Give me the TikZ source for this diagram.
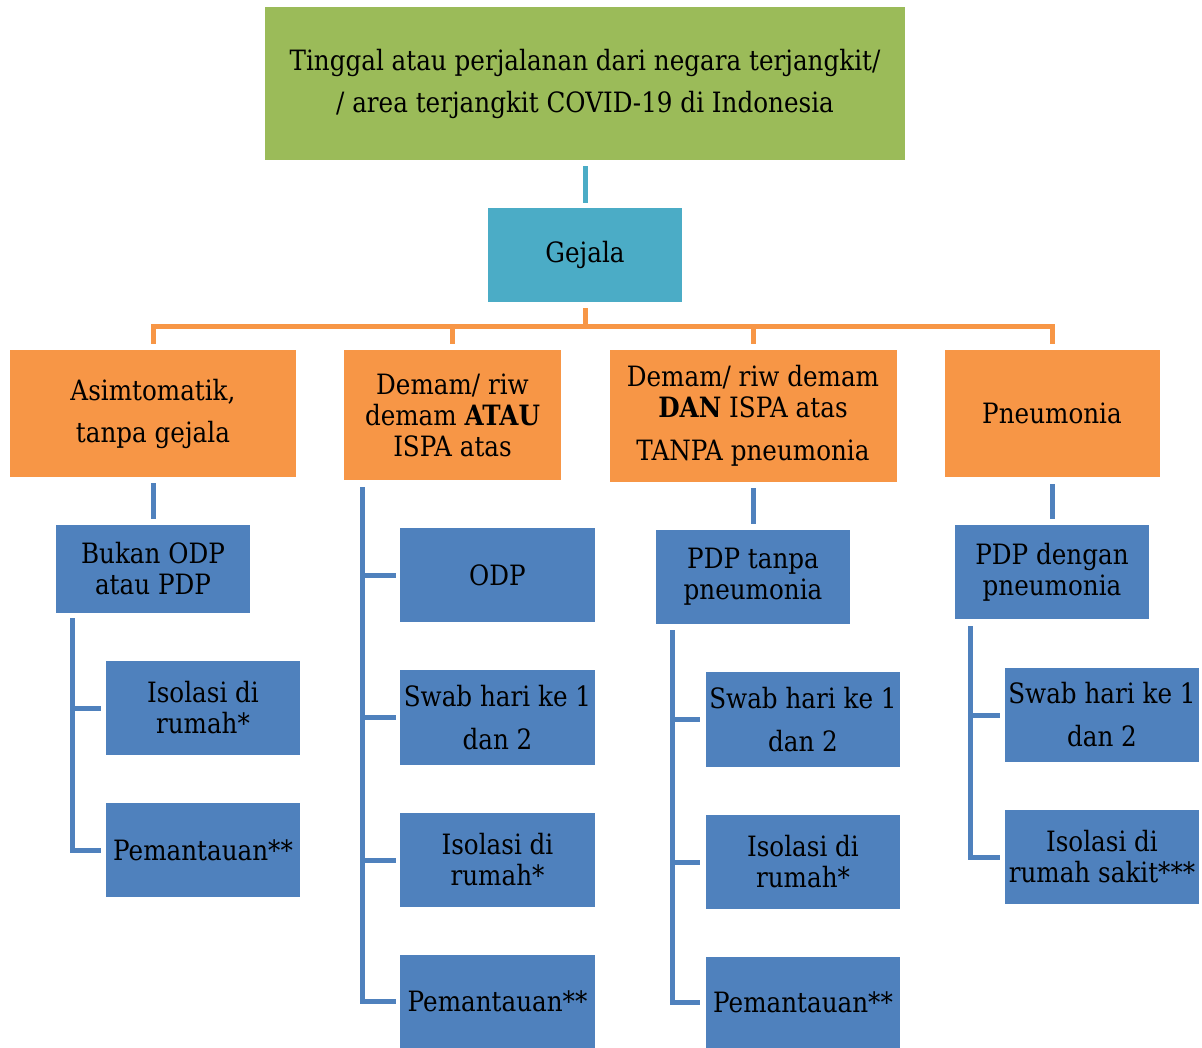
\documentclass[tikz,border=0pt]{standalone}
\usepackage{fontspec}
\setmainfont{DejaVu Serif}[FakeStretch=0.88]
\definecolor{cgreen}{HTML}{9BBB59}
\definecolor{ccyan}{HTML}{4BACC6}
\definecolor{corange}{HTML}{F79646}
\definecolor{cblue}{HTML}{4F81BD}
\begin{document}
\begin{tikzpicture}[x=1pt,y=-1pt,
  box/.style={inner sep=0pt, align=center, font=\fontsize{28}{31}\selectfont, text=black},
  sz/.style n args={2}{minimum width=#1pt, minimum height=#2pt},
  greenbox/.style={box, fill=cgreen},
  cyanbox/.style={box, fill=ccyan},
  orangebox/.style={box, fill=corange},
  bluebox/.style={box, fill=cblue},
  cyline/.style={draw=ccyan, line width=5pt},
  orline/.style={draw=corange, line width=5pt},
  blline/.style={draw=cblue, line width=5pt}]
\useasboundingbox (0,0) rectangle (1202,1048);

% top levels
\node[greenbox, sz={640}{153}] (top) at (585,83.5) {Tinggal atau perjalanan dari negara terjangkit/\\[11pt]/ area terjangkit COVID-19 di Indonesia};
\node[cyanbox, sz={194}{94}] (gejala) at (585,255) {Gejala};

% orange level
\node[orangebox, sz={286}{127}] (o1) at (153,413.5) {Asimtomatik,\\[11pt]tanpa gejala};
\node[orangebox, sz={217}{130}] (o2) at (452.5,415) {Demam/ riw\\demam \textbf{ATAU}\\ISPA atas};
\node[orangebox, sz={287}{132}] (o3) at (753,416) {Demam/ riw demam\\\textbf{DAN} ISPA atas\\[12pt]TANPA pneumonia};
\node[orangebox, sz={215}{127}] (o4) at (1052,413.5) {Pneumonia};

% column 1
\node[bluebox, sz={194}{88}] (b1) at (153,569) {Bukan ODP\\atau PDP};
\node[bluebox, sz={194}{94}] (b1a) at (203,708) {Isolasi di\\rumah*};
\node[bluebox, sz={194}{94}] (b1b) at (203,850) {Pemantauan**};

% column 2
\node[bluebox, sz={195}{94}] (c2a) at (497.5,575) {ODP};
\node[bluebox, sz={195}{95}] (c2b) at (497.5,717.5) {Swab hari ke 1\\[12pt]dan 2};
\node[bluebox, sz={195}{94}] (c2c) at (497.5,860) {Isolasi di\\rumah*};
\node[bluebox, sz={195}{93}] (c2d) at (497.5,1001.5) {Pemantauan**};

% column 3
\node[bluebox, sz={194}{94}] (b3) at (753,577) {PDP tanpa\\pneumonia};
\node[bluebox, sz={194}{95}] (b3a) at (803,719.5) {Swab hari ke 1\\[12pt]dan 2};
\node[bluebox, sz={194}{94}] (b3b) at (803,862) {Isolasi di\\rumah*};
\node[bluebox, sz={194}{91}] (b3c) at (803,1002.5) {Pemantauan**};

% column 4
\node[bluebox, sz={194}{94}] (b4) at (1052,572) {PDP dengan\\pneumonia};
\node[bluebox, sz={194}{94}] (b4a) at (1102,715) {Swab hari ke 1\\[12pt]dan 2};
\node[bluebox, sz={194}{94}] (b4b) at (1102,857) {Isolasi di\\rumah sakit***};

% connectors top
\draw[cyline, shorten <=6pt, shorten >=5pt] (top) -- (gejala);
\coordinate (bar) at (585,326.5);
\draw[orline, shorten <=6pt] (gejala) -- (bar);
\draw[orline] ([yshift=6pt]o1.north) |- (bar) -| ([yshift=6pt]o4.north);
\draw[orline] (bar -| o2.north) -- ([yshift=6pt]o2.north);
\draw[orline] (bar -| o3.north) -- ([yshift=6pt]o3.north);

% orange to blue
\draw[blline, shorten <=6pt, shorten >=6pt] (o1) -- (b1);
\draw[blline, shorten <=6pt, shorten >=6pt] (o3) -- (b3);
\draw[blline, shorten <=7pt, shorten >=6pt] (o4) -- (b4);

% column 1 tree
\coordinate (t1) at ([xshift=17pt,yshift=-5pt]b1.south west);
\draw[blline] (t1) |- ([xshift=-5pt]b1b.west);
\draw[blline] (t1 |- b1a.west) -- ([xshift=-5pt]b1a.west);

% column 2 tree
\coordinate (t2) at ([xshift=19pt,yshift=-7pt]o2.south west);
\draw[blline] (t2) |- ([xshift=-4pt]c2d.west);
\draw[blline] (t2 |- c2a.west) -- ([xshift=-4pt]c2a.west);
\draw[blline] (t2 |- c2b.west) -- ([xshift=-4pt]c2b.west);
\draw[blline] (t2 |- c2c.west) -- ([xshift=-4pt]c2c.west);

% column 3 tree
\coordinate (t3) at ([xshift=17pt,yshift=-6pt]b3.south west);
\draw[blline] (t3) |- ([xshift=-6pt]b3c.west);
\draw[blline] (t3 |- b3a.west) -- ([xshift=-6pt]b3a.west);
\draw[blline] (t3 |- b3b.west) -- ([xshift=-6pt]b3b.west);

% column 4 tree
\coordinate (t4) at ([xshift=16pt,yshift=-7pt]b4.south west);
\draw[blline] (t4) |- ([xshift=-5pt]b4b.west);
\draw[blline] (t4 |- b4a.west) -- ([xshift=-5pt]b4a.west);
\end{tikzpicture}
\end{document}
